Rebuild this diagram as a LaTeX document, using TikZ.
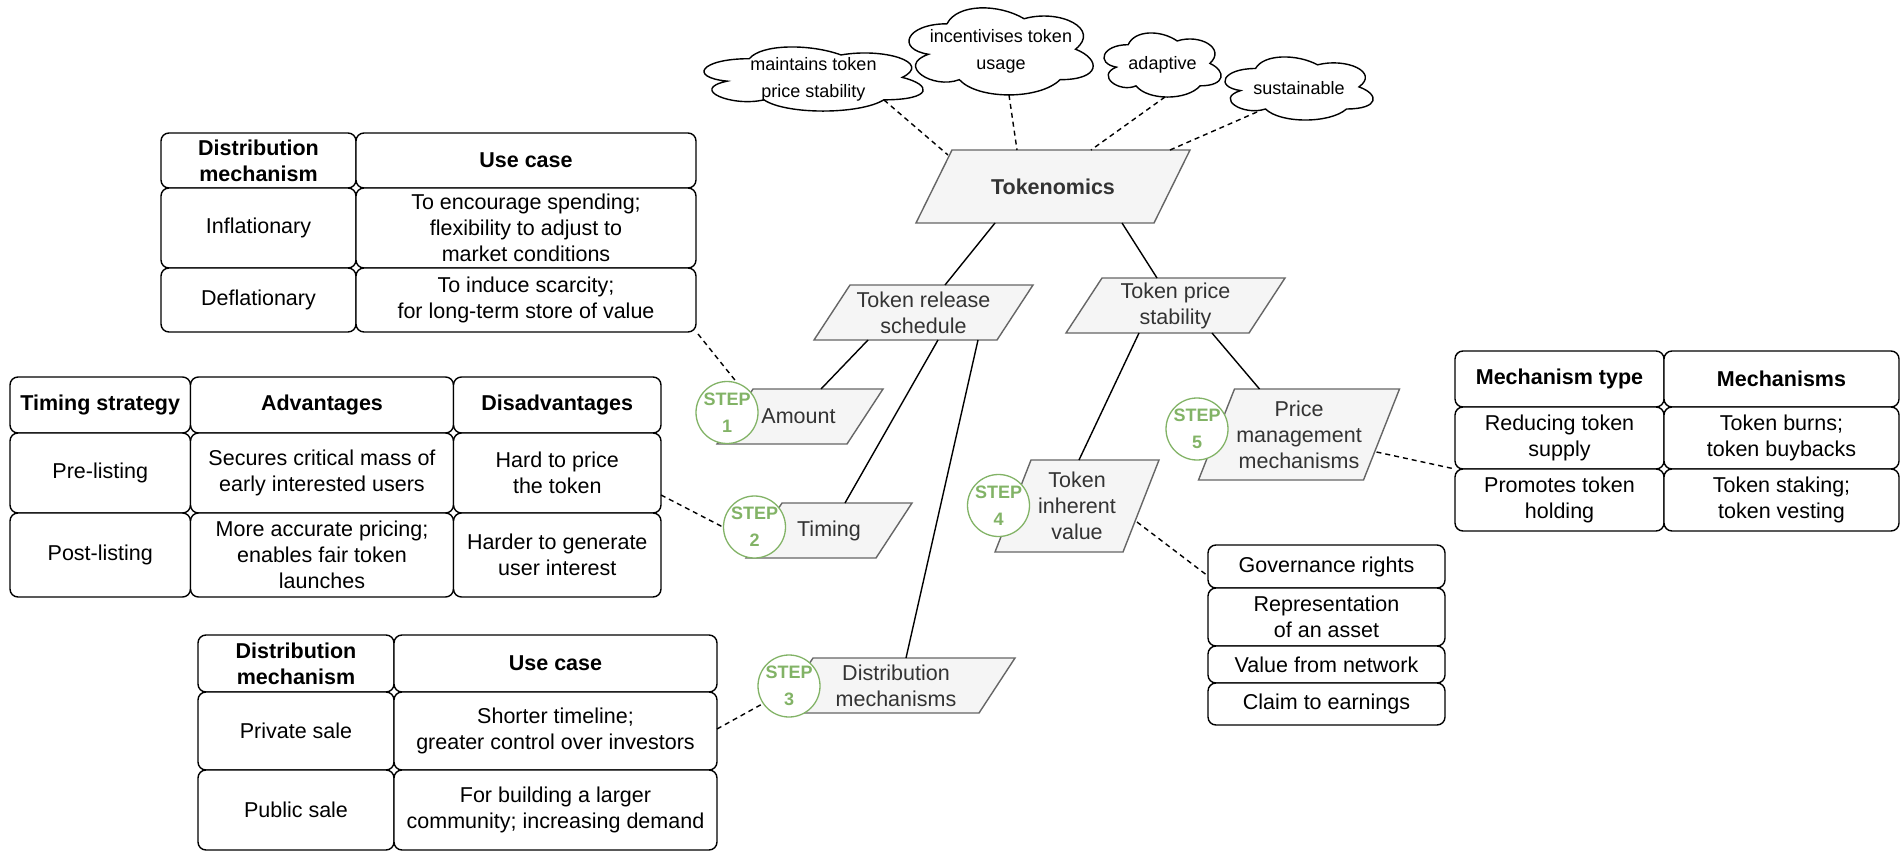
\documentclass[tikz,border=0pt]{standalone}
\usepackage{fontspec}
\setmainfont{Liberation Sans}
\pgfdeclarelayer{background}
\pgfsetlayers{background,main}
\definecolor{parafill}{HTML}{F5F5F5}
\definecolor{paraline}{HTML}{666666}
\definecolor{paratext}{HTML}{333333}
\definecolor{stepgreen}{HTML}{82B366}

\tikzset{
  txt/.style={font=\fontsize{21.5}{26}\selectfont},
  parabox/.style={rectangle, inner sep=0pt, outer sep=0pt, align=center, text=paratext, txt},
  stepcircle/.style={circle, draw=stepgreen, fill=white, line width=1.3pt,
    minimum size=62pt, inner sep=0pt, align=center, text=stepgreen,
    font=\fontsize{18}{27}\selectfont\bfseries},
  cellbox/.style={rectangle, draw=black, fill=white, rounded corners=8pt, line width=1.4pt,
    inner sep=0pt, outer sep=0pt, align=center, txt},
  hdr/.style={font=\fontsize{21.5}{26}\selectfont\bfseries},
  cloudtext/.style={rectangle, inner sep=0pt, outer sep=0pt, align=center,
    font=\fontsize{18}{27}\selectfont},
  cloudline/.style={draw=black, fill=white, line width=1.4pt},
  solidlink/.style={draw=black, line width=1.4pt},
  dashlink/.style={draw=black, line width=1.4pt, dash pattern=on 5pt off 4pt},
}

% parallelogram: a named text box with a slanted grey outline behind it
\newcommand\paranode[6]{%
  \node[parabox, minimum width=#4pt, minimum height=#5pt] (#1) at (#2,#3) {#6};
  \begin{pgfonlayer}{background}
    \filldraw[fill=parafill, draw=paraline, line width=1.4pt]
      (#1.south west) -- ([shift={(-36,0)}]#1.south east) -- (#1.north east)
      -- ([shift={(36,0)}]#1.north west) -- cycle;
  \end{pgfonlayer}}

% table cell from (x0,y0) to (x1,y1)
\newcommand\tcell[7][]{%
  \pgfmathsetmacro\cellw{#5-#3}\pgfmathsetmacro\cellh{#6-#4}%
  \pgfmathsetmacro\cellx{(#3+#5)/2}\pgfmathsetmacro\celly{(#4+#6)/2}%
  \node[cellbox,#1,minimum width=\cellw pt,minimum height=\cellh pt] (#2) at (\cellx,\celly) {#7};}

% cloud outline inside the box x0,y0,w,h
\newcommand\cloudshape[4]{%
  \draw[cloudline]
   ({#1+0.25*#3},{#2+0.25*#4})
   .. controls ({#1+0.05*#3},{#2+0.25*#4}) and ({#1},{#2+0.5*#4}) .. ({#1+0.16*#3},{#2+0.55*#4})
   .. controls ({#1},{#2+0.66*#4}) and ({#1+0.18*#3},{#2+0.9*#4}) .. ({#1+0.31*#3},{#2+0.8*#4})
   .. controls ({#1+0.4*#3},{#2+#4}) and ({#1+0.7*#3},{#2+#4}) .. ({#1+0.8*#3},{#2+0.8*#4})
   .. controls ({#1+#3},{#2+0.8*#4}) and ({#1+#3},{#2+0.6*#4}) .. ({#1+0.875*#3},{#2+0.5*#4})
   .. controls ({#1+#3},{#2+0.3*#4}) and ({#1+0.8*#3},{#2+0.1*#4}) .. ({#1+0.625*#3},{#2+0.2*#4})
   .. controls ({#1+0.5*#3},{#2+0.05*#4}) and ({#1+0.3*#3},{#2+0.05*#4}) .. ({#1+0.25*#3},{#2+0.25*#4})
   -- cycle;}

\begin{document}
\begin{tikzpicture}[x=1pt,y=-1pt]
\begin{pgfonlayer}{background}
  \fill[white] (0,0) rectangle (1901,853);
\end{pgfonlayer}
\useasboundingbox (0,0) rectangle (1901,853);

% ---- clouds ----
\cloudshape{688.1}{40.0}{244.7}{74.8}
\node[cloudtext, minimum width=219pt, minimum height=64pt] (c1) at (813.5,79) {maintains token\\price stability};
\cloudshape{895.6}{-1.6}{205.6}{101.6}
\node[cloudtext, minimum width=184pt, minimum height=87pt] (c2) at (1001,51.5) {incentivises token\\usage};
\cloudshape{1095.5}{26.0}{130.7}{74.8}
\node[cloudtext, minimum width=117pt, minimum height=64pt] (c3) at (1162.5,65) {adaptive};
\cloudshape{1214.2}{50.1}{165.4}{73.6}
\node[cloudtext, minimum width=148pt, minimum height=63pt] (c4) at (1299,88.5) {sustainable};

% ---- parallelograms ----
\paranode{tok}{1053}{186.5}{274}{73}{\bfseries Tokenomics}
\paranode{trs}{923.5}{312.5}{219}{55}{Token release\\schedule}
\paranode{tps}{1175.5}{305.5}{219}{55}{Token price\\stability}
\paranode{amt}{800}{416.5}{166}{55}{\hspace*{-3pt}Amount}
\paranode{tim}{829}{530.5}{166}{55}{Timing}
\paranode{dis}{896}{685.5}{238}{55}{Distribution\\mechanisms}
\paranode{tiv}{1077}{506}{164}{92}{Token\\inherent\\value}
\paranode{pmm}{1299}{434.5}{201}{91}{Price\\management\\mechanisms}

% ---- step markers ----
\node[stepcircle] (s1) at (727,412.5) {STEP\\1};
\node[stepcircle] (s2) at (754.5,527) {STEP\\2};
\node[stepcircle] (s3) at (789,686) {STEP\\3};
\node[stepcircle] (s4) at (998.5,505.5) {STEP\\4};
\node[stepcircle] (s5) at (1197,429) {STEP\\5};

% ---- release amount table ----
\tcell[hdr]{a00}{161}{133}{356}{188}{Distribution\\mechanism}
\tcell[hdr]{a01}{356}{133}{696}{188}{Use case}
\tcell{a10}{161}{188}{356}{268}{Inflationary}
\tcell{a11}{356}{188}{696}{268}{To encourage spending;\\flexibility to adjust to\\market conditions}
\tcell{a20}{161}{268}{356}{332}{Deflationary}
\tcell{a21}{356}{268}{696}{332}{To induce scarcity;\\for long-term store of value}

% ---- timing table ----
\tcell[hdr]{b00}{10}{377}{190.5}{433}{Timing strategy}
\tcell[hdr]{b01}{190.5}{377}{453.5}{433}{Advantages}
\tcell[hdr]{b02}{453.5}{377}{661}{433}{Disadvantages}
\tcell{b10}{10}{433}{190.5}{513}{Pre-listing}
\tcell{b11}{190.5}{433}{453.5}{513}{Secures critical mass of\\early interested users}
\tcell{b12}{453.5}{433}{661}{513}{Hard to price\\the token}
\tcell{b20}{10}{513}{190.5}{597}{Post-listing}
\tcell{b21}{190.5}{513}{453.5}{597}{More accurate pricing;\\enables fair token\\launches}
\tcell{b22}{453.5}{513}{661}{597}{Harder to generate\\user interest}

% ---- distribution table ----
\tcell[hdr]{d00}{198}{635}{394}{692}{Distribution\\mechanism}
\tcell[hdr]{d01}{394}{635}{717}{692}{Use case}
\tcell{d10}{198}{692}{394}{770}{Private sale}
\tcell{d11}{394}{692}{717}{770}{Shorter timeline;\\greater control over investors}
\tcell{d20}{198}{770}{394}{850}{Public sale}
\tcell{d21}{394}{770}{717}{850}{For building a larger\\community; increasing demand}

% ---- price management table ----
\tcell[hdr]{m00}{1455}{351}{1664}{407}{Mechanism type}
\tcell[hdr]{m01}{1664}{351}{1899}{407}{Mechanisms}
\tcell{m10}{1455}{407}{1664}{469}{Reducing token\\supply}
\tcell{m11}{1664}{407}{1899}{469}{Token burns;\\token buybacks}
\tcell{m20}{1455}{469}{1664}{531}{Promotes token\\holding}
\tcell{m21}{1664}{469}{1899}{531}{Token staking;\\token vesting}

% ---- inherent value list ----
\tcell{g0}{1208}{545}{1445}{588}{Governance rights}
\tcell{g1}{1208}{588}{1445}{646}{Representation\\of an asset}
\tcell{g2}{1208}{646}{1445}{683}{Value from network}
\tcell{g3}{1208}{683}{1445}{725}{Claim to earnings}

% ---- cloud links ----
\draw[dashlink] ([shift={(70.5,21)}]c1.center) -- ([shift={(32,5)}]tok.north west);
\draw[dashlink] ([shift={(8,0)}]c2.south) -- ([shift={(-36,0)}]tok.north);
\draw[dashlink] ([shift={(2.5,0)}]c3.south) -- ([shift={(38,0)}]tok.north);
\draw[dashlink] ([shift={(-42,23.5)}]c4.center) -- ([shift={(117,0)}]tok.north);

% ---- tree links ----
\draw[solidlink] ([shift={(-58,0)}]tok.south) -- ([shift={(21.5,0)}]trs.north);
\draw[solidlink] ([shift={(69,0)}]tok.south) -- ([shift={(-18.5,0)}]tps.north);
\draw[solidlink] ([shift={(-55.5,0)}]trs.south) -- ([shift={(21,0)}]amt.north);
\draw[solidlink] ([shift={(14.5,0)}]trs.south) -- ([shift={(16,0)}]tim.north);
\draw[solidlink] ([shift={(54.5,0)}]trs.south) -- ([shift={(10,0)}]dis.north);
\draw[solidlink] ([shift={(-36.5,0)}]tps.south) -- ([shift={(2,0)}]tiv.north);
\draw[solidlink] ([shift={(36.5,0)}]tps.south) -- ([shift={(-39.5,0)}]pmm.north);

% ---- table links ----
\draw[dashlink] ([shift={(2,2)}]a21.south east) -- (s1.72);
\draw[dashlink] ([shift={(0,22)}]b12.east) -- (s2.west);
\draw[dashlink] ([shift={(0,-2)}]d11.east) -- (s3.214);
\draw[dashlink] ([shift={(-22,16)}]tiv.east) -- ([shift={(-2,8)}]g0.west);
\draw[dashlink] ([shift={(-23,17.5)}]pmm.east) -- (m10.south west);
\end{tikzpicture}
\end{document}
